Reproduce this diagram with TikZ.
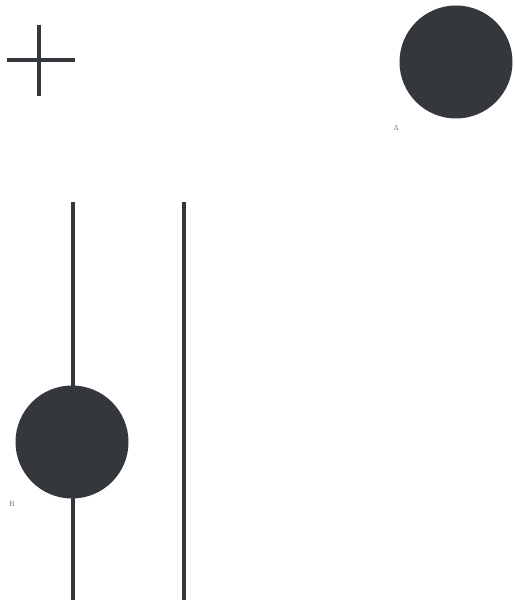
\documentclass[tikz,border=0pt]{standalone}
\definecolor{ink}{HTML}{34373B}
\begin{document}
\begin{tikzpicture}[x=1pt,y=-1pt,
  dot/.style={circle,fill=ink,draw=none,minimum size=113pt,inner sep=0pt},
  bar/.style={draw=ink,line width=4pt},
  lbl/.style={font=\fontsize{7.5}{8}\selectfont,text=ink!75,inner sep=0pt}]
\useasboundingbox[fill=white] (0,0) rectangle (514,604);
% plus sign
\coordinate (pl) at (7,60); \coordinate (pr) at (75,60);
\coordinate (pt) at (39,25); \coordinate (pb) at (39,96);
\draw[bar] (pl) -- (pr);
\draw[bar] (pt) -- (pb);
% circle A
\node[dot] (A) at (456,62) {};
\node[lbl] (la) at (396,128) {A};
% vertical lines
\coordinate (l1t) at (73,202); \coordinate (l1b) at (73,600);
\coordinate (l2t) at (184,202); \coordinate (l2b) at (184,600);
\draw[bar] (l1t) -- (l1b);
\draw[bar] (l2t) -- (l2b);
% circle B
\node[dot] (B) at (72,442) {};
\node[lbl] (lb) at (12,504) {B};
\end{tikzpicture}
\end{document}
